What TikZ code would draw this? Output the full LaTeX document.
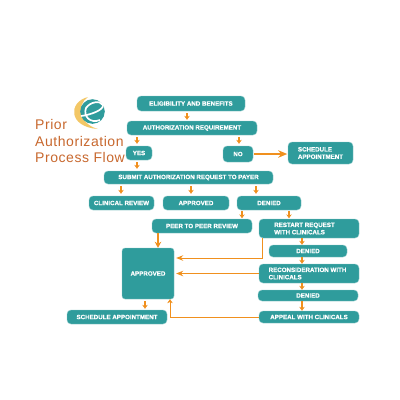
\documentclass[tikz,border=0pt]{standalone}
\usepackage{fontspec}
\setmainfont{Liberation Sans}
\newfontfamily\ttlfont[LetterSpace=4]{Liberation Sans}
\newfontfamily\bxfont[FakeBold=0.6]{Liberation Sans Bold}
\usetikzlibrary{arrows.meta,calc}
\definecolor{teal1}{HTML}{2F9C9C}
\definecolor{org}{HTML}{F0901E}
\definecolor{ttl}{HTML}{C8682E}
\definecolor{ylw}{HTML}{F3C766}
\tikzset{
 bx/.style={fill=teal1,draw=teal1!55,line width=.4pt,rounded corners=4pt,text=white,inner sep=0pt,align=center,font=\bxfont\fontsize{6.2}{7.3}\selectfont},
 bl/.style={bx,align=left},
 arr/.style={draw=org,line width=1.2pt,-{Stealth[length=4pt,width=5.5pt]}},
 thk/.style={draw=org,line width=1.7pt,-{Stealth[length=9pt,width=7.5pt]}},
 ttlx/.style={text=ttl,inner sep=0pt,anchor=base west,font=\ttlfont\fontsize{14}{17}\selectfont}
}
\newcommand{\bxat}[7][bx]{\node[#1,minimum width=#5pt-#3pt,minimum height=#6pt-#4pt] (#2) at ({(#3+#5)/2},{(#4+#6)/2}) {#7};}
\begin{document}
\begin{tikzpicture}[x=1pt,y=-1pt]
\useasboundingbox (0,0) rectangle (400,400);
\fill[white] (0,0) rectangle (400,400);
% logo
\fill[ylw] (88,97) .. controls (68,102) and (68,127) .. (98,129) .. controls (79,124) and (76,105) .. (88,97) -- cycle;
\fill[teal1] (92.5,111.5) circle (12.3);
\draw[white,line width=1.7pt] (81,116) .. controls (90,115) and (104,110) .. (103,105) .. controls (100,100) and (90,102) .. (86,108) .. controls (83,116) and (90,124) .. (100,120);
\node[ttlx] (t1) at (35,129) {Prior};
\node[ttlx] (t2) at (35,146) {Authorization};
\node[ttlx] (t3) at (35,162) {Process Flow};
\bxat{elig}{137}{96}{245}{111}{ELIGIBILITY AND BENEFITS}
\bxat{auth}{127}{121}{257}{135}{AUTHORIZATION REQUIREMENT}
\bxat{yes}{126}{146}{152}{160}{YES}
\bxat{no}{223}{146}{253}{162}{NO}
\bxat[bl]{sch}{288}{142}{353}{164}{SCHEDULE\\APPOINTMENT}
\bxat{sub}{104}{171}{273}{184}{SUBMIT AUTHORIZATION REQUEST TO PAYER}
\bxat{clin}{89}{196}{154}{210}{CLINICAL REVIEW}
\bxat{appr}{163}{196}{229}{210}{APPROVED}
\bxat{den}{237}{196}{301}{210}{DENIED}
\bxat{peer}{152}{219}{252}{233}{PEER TO PEER REVIEW}
\bxat[bx,rounded corners=3pt]{big}{122}{248}{174}{299}{APPROVED}
\bxat{sapp}{67}{310}{167}{324}{SCHEDULE APPOINTMENT}
\bxat[bl]{rest}{259}{219}{359}{238}{RESTART REQUEST\hspace*{9pt}\\WITH CLINICALS}
\bxat{den2}{269}{245}{347}{257}{DENIED}
\bxat[bl]{rec}{259}{264}{359}{283}{RECONSIDERATION WITH\hspace*{3pt}\\CLINICALS}
\bxat{den3}{258}{290}{358}{301}{DENIED}
\bxat{app}{259}{311}{359}{323}{APPEAL WITH CLINICALS}
% connectors
\draw[arr,shorten <=2pt,shorten >=1pt] (elig.south -| 187,0) -- (auth.north -| 187,0);
\draw[arr,shorten <=2pt,shorten >=2pt] (auth.south -| 137,0) -- (yes.north -| 137,0);
\draw[arr,shorten <=2pt,shorten >=2pt] (auth.south -| 239,0) -- (no.north -| 239,0);
\draw[arr,shorten <=2pt,shorten >=2pt] (yes.south -| 137,0) -- (sub.north -| 137,0);
\draw[thk] ($(no.east)+(1,0)$) -- ($(no.east)+(34,0)$);
\draw[arr,shorten <=2pt,shorten >=2pt] (sub.south -| 121,0) -- (clin.north -| 121,0);
\draw[arr,shorten <=2pt,shorten >=2pt] (sub.south -| 191,0) -- (appr.north -| 191,0);
\draw[arr,shorten <=2pt,shorten >=2pt] (sub.south -| 256,0) -- (den.north -| 256,0);
\draw[arr,shorten <=1pt,shorten >=.5pt] (den.south -| 242,0) -- (peer.north -| 242,0);
\draw[arr,shorten <=1pt,shorten >=.5pt] (den.south -| 289,0) -- (rest.north -| 289,0);
\draw[thk,-{Stealth[length=6pt,width=6.5pt]}] (peer.south -| 158,0) -- (big.north -| 158,0);
\draw[arr,shorten <=2pt,shorten >=1pt] (big.south -| 145,0) -- (sapp.north -| 145,0);
\draw[arr] (rest.south -| 302,0) -- (den2.north -| 302,0);
\draw[arr] (den2.south -| 302,0) -- (rec.north -| 302,0);
\draw[arr] (rec.south -| 302,0) -- (den3.north -| 302,0);
\draw[arr] (den3.south -| 302,0) -- (app.north -| 302,0);
\draw[arr,line width=1pt,-{Stealth[length=7pt,width=5.5pt]}] (rest.south -| 262,0) |- ($(big.east |- 0,258)+(2,0)$);
\draw[arr,line width=1pt,-{Stealth[length=7pt,width=5.5pt]}] (rec.west) -- ($(big.east |- rec.west)+(2,0)$);
\draw[arr,line width=1pt] (app.west) -| (big.south -| 170,0);
\end{tikzpicture}
\end{document}
